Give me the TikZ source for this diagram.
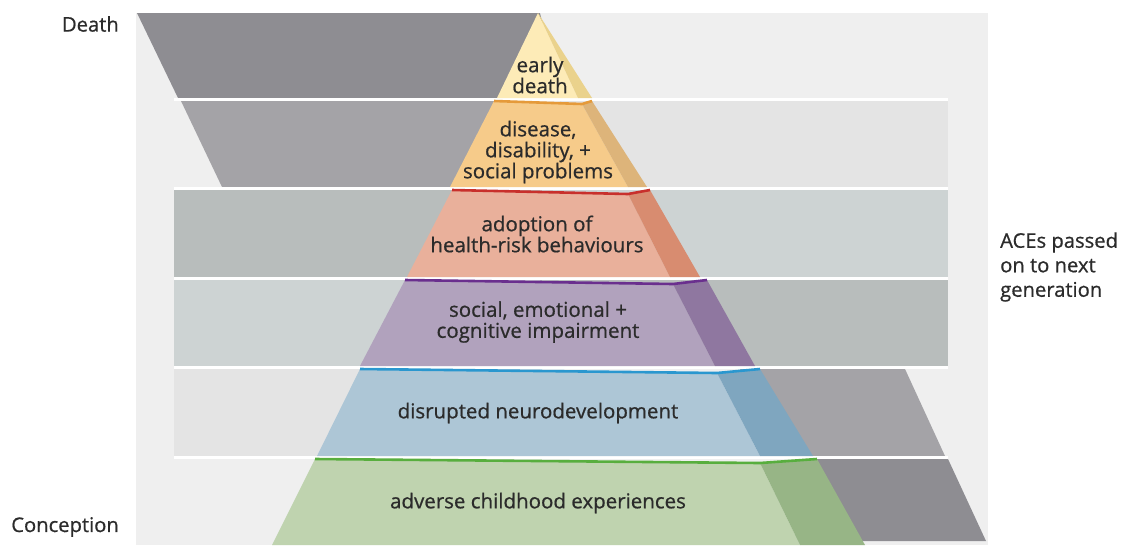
\documentclass[tikz,border=0pt]{standalone}
\usepackage{fontspec}
\setmainfont{Open Sans}[FakeBold=0.7]
\begin{document}
\begin{tikzpicture}[x=1pt,y=-1pt,
  lbl/.style={font=\fontsize{20.5}{21}\selectfont, text=txt, align=center, inner sep=0pt},
  side/.style={font=\fontsize{20.2}{24.5}\selectfont, text=txt, inner sep=0pt},
  sep/.style={white, line width=3pt},
  edge/.style={line width=2.6pt, line join=round}]
\definecolor{txt}{HTML}{2B2B2B}
\definecolor{panel}{HTML}{EFEFEF}
\definecolor{gdark}{HTML}{8E8D92}
\definecolor{gmid}{HTML}{A4A3A7}
\definecolor{glight}{HTML}{E4E4E4}
\definecolor{sdark}{HTML}{B8BDBC}
\definecolor{slight}{HTML}{CDD3D3}
\definecolor{yF}{HTML}{FDEBB7}\definecolor{yS}{HTML}{EAD28C}
\definecolor{oF}{HTML}{F6CB8A}\definecolor{oS}{HTML}{DDB47A}\definecolor{oL}{HTML}{E59A3A}
\definecolor{rF}{HTML}{E9B09B}\definecolor{rS}{HTML}{D88C70}\definecolor{rL}{HTML}{C8302C}
\definecolor{pF}{HTML}{B1A2BD}\definecolor{pS}{HTML}{8F77A0}\definecolor{pL}{HTML}{6A2F8E}
\definecolor{bF}{HTML}{ADC6D6}\definecolor{bS}{HTML}{7FA6BF}\definecolor{bL}{HTML}{2A97CF}
\definecolor{gF}{HTML}{BFD3AF}\definecolor{gS}{HTML}{97B586}\definecolor{gL}{HTML}{58AE3E}
\useasboundingbox (0,0) rectangle (1124,547);
\fill[white] (0,0) rectangle (1124,547);
% panel
\fill[panel] (136,13) rectangle (988,545);
% row 1
\fill[gdark] (137,13) -- (540,13) -- (560,98) -- (178,98) -- cycle;
% row 2
\fill[gmid] (181,101) -- (520,101) -- (480,187) -- (222,187) -- cycle;
\fill[glight] (560,101) rectangle (948,187);
% row 3
\fill[sdark] (174,190) rectangle (540,277);
\fill[slight] (540,190) rectangle (948,277);
% row 4
\fill[slight] (174,280) rectangle (540,366);
\fill[sdark] (540,280) rectangle (948,366);
% row 5
\fill[glight] (174,369) rectangle (540,456);
\fill[gmid] (740,369) -- (905,369) -- (945,456) -- (780,456) -- cycle;
% row 6
\fill[gdark] (800,459) -- (948,459) -- (986,541) -- (840,541) -- cycle;
% separators
\foreach \yy in {99.5,188.5,278.5,367.5,457.5}
  \draw[sep] (174,\yy) -- (948,\yy);
% pyramid tiers
% T1
\fill[yF] (538,13) -- (578,98) -- (497,98) -- cycle;
\fill[yS] (538,13) -- (592,98) -- (578,98) -- cycle;
% T2
\fill[oF] (494,101) -- (582,104) -- (628,187) -- (450,187) -- cycle;
\fill[oS] (582,104) -- (592,101) -- (647,187) -- (628,187) -- cycle;
\draw[edge,oL] (494,101) -- (582,104) -- (592,101);
% T3
\fill[rF] (452,190) -- (628,194) -- (670,277) -- (407,277) -- cycle;
\fill[rS] (628,194) -- (650,190) -- (700,277) -- (670,277) -- cycle;
\draw[edge,rL] (452,190) -- (628,194) -- (650,190);
% T4
\fill[pF] (405,280) -- (673,284) -- (715,366) -- (360,366) -- cycle;
\fill[pS] (673,284) -- (707,280) -- (755,366) -- (715,366) -- cycle;
\draw[edge,pL] (405,280) -- (673,284) -- (707,280);
% T5
\fill[bF] (360,369) -- (717,373) -- (760,456) -- (317,456) -- cycle;
\fill[bS] (717,373) -- (760,369) -- (813,456) -- (760,456) -- cycle;
\draw[edge,bL] (360,369) -- (717,373) -- (760,369);
% T6
\fill[gF] (315,459) -- (760,463) -- (800,545) -- (272,545) -- cycle;
\fill[gS] (760,463) -- (817,459) -- (865,545) -- (800,545) -- cycle;
\draw[edge,gL] (315,459) -- (760,463) -- (817,459);
% labels
\node[lbl] (t1) at (540,75) {early\\death};
\node[lbl] (t2) at (538,152) {disease,\\disability, +\\social problems};
\node[lbl] (t3) at (537,234) {adoption of\\health-risk behaviours};
\node[lbl] (t4) at (538,322) {social, emotional +\\cognitive impairment};
\node[lbl] (t5) at (538,413) {disrupted neurodevelopment};
\node[lbl] (t6) at (538,503) {adverse childhood experiences};
\node[side, anchor=east] (death) at (119,24) {Death};
\node[side, anchor=east] (conc) at (119,527) {Conception};
\node[side, anchor=west, align=left] (aces) at (1000,267) {ACEs passed\\on to next\\generation};
\end{tikzpicture}
\end{document}
